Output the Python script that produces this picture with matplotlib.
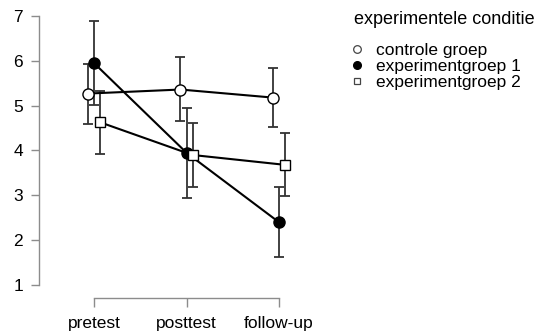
import numpy as np
import matplotlib
matplotlib.use('Agg')
import matplotlib.pyplot as plt
from matplotlib.lines import Line2D

plt.rcParams['font.family'] = ['Liberation Sans', 'DejaVu Sans']

momenten = ['pretest', 'posttest', 'follow-up']

controle = [5.27, 5.36, 5.18]
controle_hi = [5.93, 6.08, 5.85]
controle_lo = [4.60, 4.65, 4.52]

exp1 = [5.95, 3.95, 2.40]
exp1_hi = [6.88, 4.95, 3.18]
exp1_lo = [5.02, 2.95, 1.62]

exp2 = [4.63, 3.90, 3.68]
exp2_hi = [5.33, 4.62, 4.38]
exp2_lo = [3.93, 3.18, 2.98]

W, H = 545, 331
fig = plt.figure(figsize=(W / 100, H / 100), dpi=100)
ax = fig.add_axes([39 / W, (H - 298) / H, (310 - 39) / W, (298 - 10) / H])

x = np.arange(len(momenten))
groepen = [
    (controle, controle_lo, controle_hi, -0.065, 'o', 'white', 'controle groep'),
    (exp1, exp1_lo, exp1_hi, 0.0, 'o', 'black', 'experimentgroep 1'),
    (exp2, exp2_lo, exp2_hi, 0.065, 's', 'white', 'experimentgroep 2'),
]

for vals, lo, hi, off, mk, fc, lab in groepen:
    vals = np.array(vals)
    err = [vals - np.array(lo), np.array(hi) - vals]
    ax.errorbar(x + off, vals, yerr=err, fmt='none', ecolor='#333333',
                elinewidth=1.3, capsize=3.5, capthick=1.3, zorder=1)
    ax.plot(x + off, vals, color='black', lw=1.5, marker=mk,
            markersize=8 if mk == 'o' else 7.5, markerfacecolor=fc,
            markeredgecolor='black', markeredgewidth=1.0, zorder=3)

ax.set_xlim(-(94 - 39) / 92.5, 2 + (310 - 279) / 92.5)
ax.set_ylim(1 - 13 / 44.8, 7 + 6 / 44.8)

for s in ['top', 'right']:
    ax.spines[s].set_visible(False)
ax.spines['left'].set_bounds(1, 7)
ax.spines['bottom'].set_bounds(0, 2)
for s in ['left', 'bottom']:
    ax.spines[s].set_color('#8c8c8c')
    ax.spines[s].set_linewidth(1.0)

ax.set_yticks([1, 2, 3, 4, 5, 6, 7])
ax.set_xticks(x)
ax.set_xticklabels(momenten)
ax.tick_params(axis='both', direction='out', length=5.5, width=1.0,
               color='#8c8c8c', labelsize=12.5, labelcolor='black')
ax.tick_params(axis='x', length=6.5, pad=6.5)
ax.tick_params(axis='y', pad=6)

# legend title apart, the reference has a wide gap under it
fig.text(354 / W, 1 - 19 / H, 'experimentele conditie', fontsize=13,
         ha='left', va='center')

handles = [
    Line2D([], [], ls='none', marker='o', markersize=5.5, markerfacecolor='white',
           markeredgecolor='#444444', markeredgewidth=0.9),
    Line2D([], [], ls='none', marker='o', markersize=5.5, markerfacecolor='black',
           markeredgecolor='black'),
    Line2D([], [], ls='none', marker='s', markersize=5, markerfacecolor='white',
           markeredgecolor='#444444', markeredgewidth=0.9),
]
leg = fig.legend(handles, [g[6] for g in groepen],
                 loc='upper left', bbox_to_anchor=(350 / W, 1 - 43 / H),
                 frameon=False, fontsize=12.5,
                 handlelength=0.8, handletextpad=0.7, labelspacing=0.05,
                 borderaxespad=0, borderpad=0)

fig.savefig('out.png', dpi=100)
